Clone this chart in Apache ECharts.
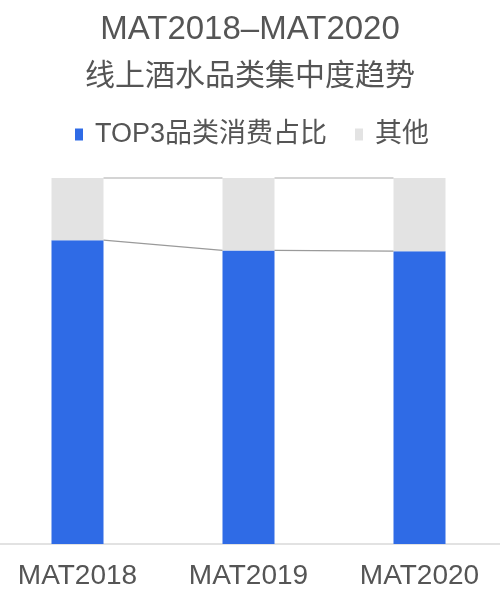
<!DOCTYPE html>
<html>
<head>
<meta charset="utf-8">
<script src="https://cdn.jsdelivr.net/npm/echarts@6/dist/echarts.min.js"></script>
<style>
html,body{margin:0;padding:0;background:#fff;}
#main{width:500px;height:600px;}
</style>
</head>
<body>
<div id="main"></div>
<script>
const categories = ['MAT2018', 'MAT2019', 'MAT2020'];
const top3Share = [83, 80.2, 80];
const otherShare = [17, 19.8, 20];
const seriesNames = ['TOP3品类消费占比', '其他'];
const titleText = 'MAT2018–MAT2020';
const subtitleText = '线上酒水品类集中度趋势';

const FONT = "'Liberation Sans', 'Noto Sans CJK SC', sans-serif";
const BAR_W = 52;

const cumTop = top3Share.map((v, i) => v + otherShare[i]);

function connectorData(vals) {
  const out = [];
  for (let i = 0; i < vals.length - 1; i++) out.push([i, vals[i], vals[i + 1]]);
  return out;
}

function connector(color) {
  return function (params, api) {
    const i = api.value(0);
    const p0 = api.coord([i, api.value(1)]);
    const p1 = api.coord([i + 1, api.value(2)]);
    return {
      type: 'line',
      shape: { x1: p0[0] + BAR_W / 2, y1: p0[1], x2: p1[0] - BAR_W / 2, y2: p1[1] },
      style: { stroke: color, lineWidth: 1.2 }
    };
  };
}

const chart = echarts.init(document.getElementById('main'));
chart.setOption({
  backgroundColor: '#ffffff',
  animation: false,
  title: [
    { text: titleText, left: 'center', top: 8,
      textStyle: { fontFamily: FONT, fontSize: 33, fontWeight: 'normal', color: '#555' } },
    { text: subtitleText, left: 'center', top: 54,
      textStyle: { fontFamily: "'Noto Sans CJK SC', sans-serif", fontSize: 30, fontWeight: 'normal', color: '#555' } }
  ],
  legend: {
    left: 70, top: 116,
    icon: 'rect', itemWidth: 8, itemHeight: 12, itemGap: 28,
    data: seriesNames,
    textStyle: { fontFamily: FONT, fontSize: 27, color: '#555', padding: [0, 0, 0, 7] }
  },
  grid: { left: -8, right: -5, top: 178, bottom: 56, outerBoundsMode: 'none', containLabel: false },
  xAxis: {
    type: 'category', data: categories,
    axisLine: { lineStyle: { color: '#d9d9d9', width: 1.5 } },
    axisTick: { show: false },
    axisLabel: { fontFamily: FONT, fontSize: 28, color: '#555', margin: 18 }
  },
  yAxis: { type: 'value', min: 0, max: 100, show: false, splitLine: { show: false } },
  series: [
    { name: seriesNames[0], type: 'bar', stack: 'a', barWidth: BAR_W, data: top3Share,
      itemStyle: { color: '#2f6be6' } },
    { name: seriesNames[1], type: 'bar', stack: 'a', barWidth: BAR_W, data: otherShare,
      itemStyle: { color: '#e3e3e3' } },
    { type: 'custom', renderItem: connector('#9a9a9a'), data: connectorData(top3Share),
      encode: { x: 0, y: 1 }, silent: true, z: 5 },
    { type: 'custom', renderItem: connector('#aaaaaa'), data: connectorData(cumTop),
      encode: { x: 0, y: 1 }, silent: true, z: 5 }
  ]
});
</script>
</body>
</html>
